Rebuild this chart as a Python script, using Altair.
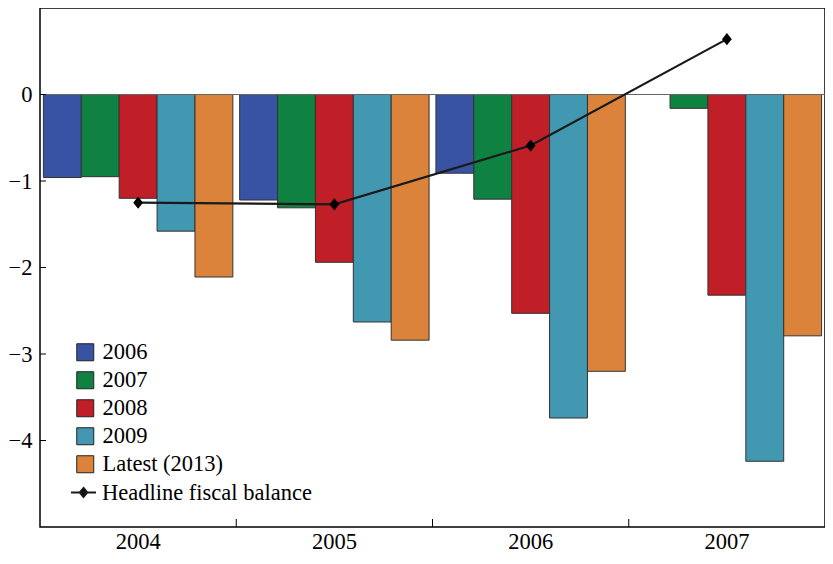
import altair as alt
import pandas as pd

years = ["2004", "2005", "2006", "2007"]
series = ["2006", "2007", "2008", "2009", "Latest (2013)"]
colors = ["#3853A4", "#0F8140", "#C01F27", "#4198B0", "#DB833B"]
v2006 = [-0.96, -1.22, -0.91, None]
v2007 = [-0.95, -1.31, -1.21, -0.16]
v2008 = [-1.20, -1.94, -2.53, -2.32]
v2009 = [-1.58, -2.63, -3.74, -4.24]
vlatest = [-2.11, -2.84, -3.20, -2.79]
headline = [-1.25, -1.27, -0.59, 0.64]
y_ticks = [-4, -3, -2, -1, 0]

rows = []
for s, vals in zip(series, [v2006, v2007, v2008, v2009, vlatest]):
    for yr, v in zip(years, vals):
        if v is not None:
            rows.append({"year": yr, "series": s, "value": v})
bars_df = pd.DataFrame(rows)
line_df = pd.DataFrame({"year": years, "value": headline, "name": "Headline fiscal balance"})
ytick_df = pd.DataFrame({"v": y_ticks})
xtick_df = pd.DataFrame({"year": years[1:]})

FONT = "Liberation Serif"
FS = 22.5
H = 519
W = 785
ydom = alt.Scale(domain=[-5, 1], nice=False, zero=False)
xscale = alt.Scale(paddingInner=0, paddingOuter=0)

xenc = alt.X("year:N", scale=xscale, sort=years,
             axis=alt.Axis(title=None, tickSize=0, labelPadding=3, labelFontSize=FS,
                           labelFont=FONT, labelColor="black", domain=False, labelAngle=0))

bars = alt.Chart(bars_df).mark_bar(stroke="#333333", strokeWidth=1).encode(
    x=xenc,
    xOffset=alt.XOffset("series:N", sort=series,
                        scale=alt.Scale(domain=series, paddingInner=0, paddingOuter=0.09)),
    y=alt.Y("value:Q", scale=ydom,
            axis=alt.Axis(title=None, values=y_ticks, format="d", tickSize=0, labelPadding=8,
                          labelFontSize=FS, labelFont=FONT, labelColor="black",
                          domain=False, grid=False)),
    fill=alt.Fill("series:N", sort=series,
                  scale=alt.Scale(domain=series, range=colors),
                  legend=alt.Legend(title=None, orient="none", legendX=34, legendY=333,
                                    symbolType="square", symbolSize=289,
                                    symbolStrokeColor="#222222", symbolStrokeWidth=1,
                                    labelFont=FONT, labelFontSize=FS, labelColor="black",
                                    labelOffset=6, rowPadding=5, padding=0, labelLimit=400)),
)

zero = alt.Chart(pd.DataFrame({"z": [0]})).mark_rule(color="#666666", strokeWidth=1).encode(
    y=alt.Y("z:Q", scale=ydom))

yticks = alt.Chart(ytick_df).mark_rule(color="black", strokeWidth=1).encode(
    y=alt.Y("v:Q", scale=ydom), x=alt.value(0), x2=alt.value(6))

xticks = alt.Chart(xtick_df).mark_rule(color="black", strokeWidth=1).encode(
    x=alt.X("year:N", scale=xscale, sort=years, bandPosition=0),
    y=alt.value(H), y2=alt.value(H - 8))

legend_path = "M-1,0L1,0M0,-0.36L0.3,0L0,0.36L-0.3,0Z"
diamond = "M-0.8,0L0,-1L0.8,0L0,1Z"

line = alt.Chart(line_df).mark_line(strokeWidth=2.2).encode(
    x=alt.X("year:N", scale=xscale, sort=years),
    y=alt.Y("value:Q", scale=ydom),
    stroke=alt.Stroke("name:N", scale=alt.Scale(range=["#1a1a1a"]),
                      legend=alt.Legend(title=None, orient="none", legendX=30, legendY=471,
                                        symbolType=legend_path, symbolSize=625,
                                        symbolFillColor="black", symbolStrokeWidth=2,
                                        labelFont=FONT, labelFontSize=FS, labelColor="black",
                                        labelOffset=5, padding=0, labelLimit=400)),
)
pts = alt.Chart(line_df).mark_point(shape=diamond, filled=True, size=150, color="black", opacity=1).encode(
    x=alt.X("year:N", scale=xscale, sort=years),
    y=alt.Y("value:Q", scale=ydom),
)

chart = alt.layer(bars, zero, yticks, xticks, line, pts).resolve_scale(
    fill="independent", stroke="independent"
).properties(
    width=W, height=H,
    autosize=alt.AutoSizeParams(type="none"),
    padding={"left": 32, "top": 0, "right": 0, "bottom": 27},
).configure_view(stroke="black", strokeWidth=1.5)

chart.save("out.html", embed_options={"renderer": "svg", "actions": False})
